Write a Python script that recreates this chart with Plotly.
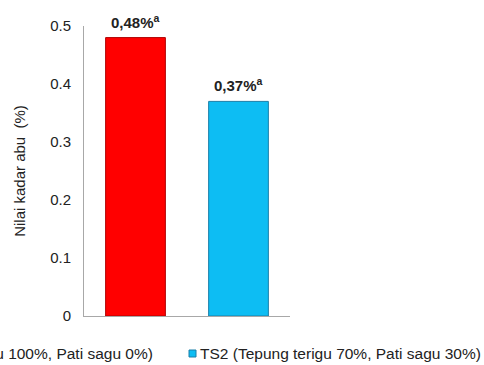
import plotly.graph_objects as go

categories = ["TS1", "TS2"]
series_names = ["TS1 (Tepung terigu 100%, Pati sagu 0%)", "TS2 (Tepung terigu 70%, Pati sagu 30%)"]
values = [0.48, 0.37]
labels = ["0,48%", "0,37%"]
letters = ["a", "a"]
fills = ["#FF0000", "#0DBDF3"]
edges = ["#B00000", "#1A7FA8"]
tick_vals = [0, 0.1, 0.2, 0.3, 0.4, 0.5]
tick_text = ["0", "0.1", "0.2", "0.3", "0.4", "0.5"]

FONT = "Liberation Sans, Arial"
L, R, T, B = 84, 194, 26, 49
W, H = 484, 365
PW = W - L - R
PH = H - T - B


def px_x(p):
    return (p - L) / PW


def px_y(p):
    return (H - B - p) / PH


fig = go.Figure()
for i in range(len(categories)):
    fig.add_trace(go.Bar(
        x=[categories[i]], y=[values[i]], name=series_names[i],
        marker=dict(color=fills[i], line=dict(color=edges[i], width=1)),
        width=0.58, offset=-0.29, showlegend=False,
    ))
    fig.add_annotation(x=categories[i], y=values[i], yanchor="bottom", yshift=5,
                       text=f"<b>{labels[i]}<sup>{letters[i]}</sup></b>", showarrow=False,
                       font=dict(family=FONT, size=15, color="#222"))

# legend drawn as text + small square markers (legend is cropped on the left in the reference)
legend_y = px_y(353)
fig.add_annotation(xref="paper", yref="paper", x=px_x(155), y=legend_y, xanchor="right",
                   yanchor="middle", text=series_names[0], showarrow=False,
                   font=dict(family=FONT, size=15.5, color="#222"))
fig.add_annotation(xref="paper", yref="paper", x=px_x(198), y=legend_y, xanchor="left",
                   yanchor="middle", text=series_names[1], showarrow=False,
                   font=dict(family=FONT, size=15.5, color="#222"))
for i, (x0, x1) in enumerate([(-150, -143), (189, 196)]):
    fig.add_shape(type="rect", xref="paper", yref="paper",
                  x0=px_x(x0), x1=px_x(x1), y0=px_y(350), y1=px_y(357),
                  fillcolor=fills[i], line=dict(color=edges[i], width=1))

fig.update_layout(
    width=W, height=H,
    margin=dict(l=L, r=R, t=T, b=B),
    paper_bgcolor="white", plot_bgcolor="white",
    font=dict(family=FONT, size=15, color="#222"),
    barmode="overlay",
    showlegend=False,
)
fig.update_xaxes(categoryorder="array", categoryarray=categories, showticklabels=False,
                 showline=True, linecolor="#A8A8A8", linewidth=1, ticks="", range=[-0.5, 1.5])
fig.update_yaxes(range=[0, 0.5], tickvals=tick_vals, ticktext=tick_text, showgrid=False,
                 zeroline=False, showline=True, linecolor="#A8A8A8", linewidth=1, ticks="",
                 ticklabelstandoff=9, tickfont=dict(size=15),
                 title=dict(text="Nilai kadar abu  (%)", standoff=20, font=dict(size=15)))

fig.write_html("out.html")
